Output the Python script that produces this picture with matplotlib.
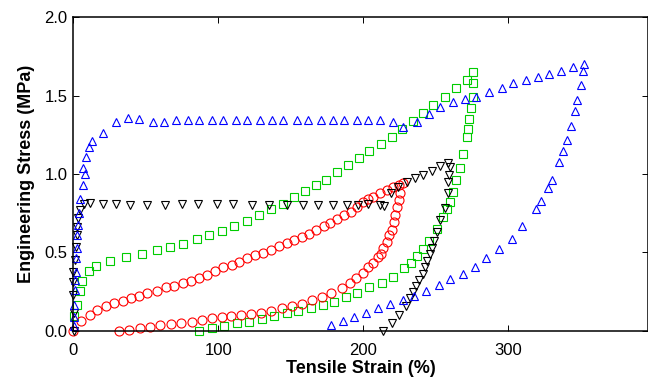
import numpy as np
import matplotlib
matplotlib.use("Agg")
import matplotlib.pyplot as plt

# --- DATA (strain in %, stress in MPa) ---
blue_x = [0.5, 0.5, 0.5, 1.0, 1.2, 1.6, 1.9, 2.3, 2.8, 3.2, 3.9, 4.6, 6.7, 7.8, 6.9,
          8.8, 11.0, 13.1, 20.7, 29.5, 38.0, 45.5, 54.8, 62.8, 70.7, 79.0, 87.0, 95.5,
          103.5, 112.0, 120.0, 129.0, 137.0, 145.0, 154.0, 162.0, 171.0, 179.4, 187.0,
          195.6, 203.6, 211.7, 220.4, 227.7, 237.0, 245.7, 253.0, 262.3, 270.3, 278.0,
          287.0, 295.6, 303.2, 312.2, 320.5, 328.3, 336.8, 344.6, 352.4,
          351.5, 350.4, 347.4, 345.8, 343.5, 340.9, 338.2, 335.0, 330.2, 327.4, 322.6,
          319.1, 309.9, 302.6, 293.8, 284.8, 277.2, 268.7, 260.0, 252.4, 243.4, 235.1,
          227.3, 218.6, 210.0, 202.0, 193.7, 185.9, 177.6]
blue_y = [0.03, 0.09, 0.164, 0.26, 0.323, 0.377, 0.462, 0.526, 0.61, 0.675, 0.749, 0.838,
          0.93, 1.0, 1.036, 1.11, 1.17, 1.21, 1.26, 1.33, 1.355, 1.35, 1.334, 1.334,
          1.345, 1.345, 1.345, 1.345, 1.345, 1.345, 1.345, 1.345, 1.345, 1.345, 1.345,
          1.345, 1.345, 1.345, 1.345, 1.345, 1.345, 1.345, 1.33, 1.30, 1.33, 1.38, 1.425,
          1.46, 1.48, 1.49, 1.525, 1.55, 1.58, 1.60, 1.62, 1.64, 1.657, 1.685, 1.70,
          1.657, 1.568, 1.47, 1.40, 1.306, 1.217, 1.147, 1.075, 0.962, 0.909, 0.83,
          0.775, 0.668, 0.587, 0.523, 0.462, 0.408, 0.36, 0.328, 0.292, 0.255, 0.221,
          0.196, 0.168, 0.143, 0.115, 0.09, 0.063, 0.036]

green_x = [0.5, 2.8, 4.6, 6.2, 10.8, 15.9, 25.3, 36.4, 47.2, 57.6, 66.7, 75.5, 85.2,
           93.9, 102.4, 110.9, 119.7, 128.4, 136.2, 144.5, 152.0, 160.0, 167.5, 174.6,
           181.8, 189.8, 197.0, 204.3, 212.2, 219.7, 226.6, 234.2, 241.5, 248.4, 256.5,
           263.9, 271.5, 276.1,
           276.1, 276.1, 274.3, 273.3, 272.6, 271.5, 268.7, 266.9, 264.1, 262.3, 260.0,
           258.1, 255.4, 250.8, 245.7, 241.5, 237.0, 232.8, 228.2, 220.4, 212.8, 204.3,
           195.6, 188.0, 179.9, 172.1, 163.8, 155.3, 147.3, 138.5, 130.0, 121.5, 113.2,
           104.0, 95.5, 87.0]
green_y = [0.094, 0.164, 0.255, 0.319, 0.383, 0.413, 0.447, 0.468, 0.49, 0.515, 0.536,
           0.553, 0.583, 0.611, 0.638, 0.668, 0.702, 0.738, 0.775, 0.809, 0.855, 0.89,
           0.932, 0.964, 1.015, 1.057, 1.104, 1.149, 1.19, 1.238, 1.29, 1.34, 1.39, 1.44,
           1.49, 1.547, 1.60, 1.653,
           1.583, 1.493, 1.42, 1.35, 1.287, 1.234, 1.128, 1.036, 0.962, 0.887, 0.823,
           0.775, 0.728, 0.647, 0.574, 0.519, 0.477, 0.434, 0.398, 0.345, 0.306, 0.277,
           0.239, 0.213, 0.185, 0.164, 0.143, 0.128, 0.115, 0.094, 0.073, 0.057, 0.047,
           0.030, 0.015, 0.0]

black_x = [0.5, 0.5, 0.0, 0.0, 0.0, 1.5, 1.6, 2.8, 2.8, 3.4, 4.6, 7.4, 11.5, 20.7, 29.5,
           39.1, 51.0, 63.3, 74.8, 86.3, 99.0, 110.4, 123.0, 135.3, 147.3, 158.3, 169.1,
           179.4, 188.7, 196.7, 203.6, 211.7, 214.4, 219.0, 224.3, 230.0, 235.8, 241.5,
           247.3, 253.0, 258.8,
           259.9, 259.4, 258.8, 258.2, 256.5, 253.0, 250.8, 249.0, 247.3, 246.2, 244.3,
           242.7, 241.1, 238.8, 236.5, 234.6, 232.4, 229.6, 225.0, 219.7, 214.0]
black_y = [0.0, 0.11, 0.228, 0.313, 0.377, 0.45, 0.536, 0.61, 0.664, 0.717, 0.77, 0.809,
           0.813, 0.809, 0.81, 0.80, 0.80, 0.80, 0.809, 0.809, 0.809, 0.809, 0.80, 0.80,
           0.80, 0.80, 0.80, 0.80, 0.80, 0.80, 0.809, 0.80, 0.796, 0.877, 0.915, 0.947,
           0.972, 0.993, 1.02, 1.05, 1.068,
           1.047, 0.993, 0.951, 0.877, 0.78, 0.706, 0.632, 0.574, 0.526, 0.49, 0.447,
           0.405, 0.362, 0.324, 0.285, 0.249, 0.207, 0.158, 0.10, 0.051, 0.0]

red_x = [0.0, 5.6, 11.2, 16.6, 22.5, 27.9, 34.1, 39.6, 45.5, 51.0, 58.0, 63.9, 69.5, 75.5,
         81.0, 87.0, 92.5, 97.8, 103.5, 109.3, 114.6, 120.1, 125.4, 130.7, 136.2, 142.2,
         147.3, 152.3, 157.6, 162.9, 167.5, 173.0, 177.2, 182.2, 186.8, 191.4, 196.0,
         200.1, 203.5, 207.0, 211.7, 216.3, 220.4, 224.4, 227.7,
         225.5, 224.4, 223.2, 222.0, 221.0, 219.7, 218.0, 216.3, 214.0, 212.0, 210.3,
         207.0, 203.6, 199.7, 195.0, 191.0, 185.2, 178.0, 171.4, 164.5, 157.6, 150.7,
         143.8, 136.2, 129.3, 122.4, 115.5, 108.6, 102.4, 95.5, 88.6, 81.7, 74.1, 67.2,
         59.8, 52.9, 46.0, 38.6, 31.7]
red_y = [0.0, 0.06, 0.103, 0.134, 0.156, 0.177, 0.191, 0.207, 0.221, 0.239, 0.255, 0.277,
         0.285, 0.302, 0.319, 0.334, 0.355, 0.383, 0.405, 0.419, 0.44, 0.462, 0.483, 0.498,
         0.515, 0.541, 0.558, 0.579, 0.60, 0.62, 0.643, 0.668, 0.689, 0.711, 0.738, 0.76,
         0.787, 0.823, 0.84, 0.855, 0.877, 0.898, 0.919, 0.93, 0.94,
         0.877, 0.834, 0.79, 0.738, 0.696, 0.643, 0.61, 0.568, 0.526, 0.49, 0.468, 0.434,
         0.405, 0.37, 0.334, 0.302, 0.27, 0.243, 0.217, 0.196, 0.17, 0.158, 0.143, 0.128,
         0.115, 0.107, 0.10, 0.094, 0.085, 0.079, 0.068, 0.057, 0.051, 0.043, 0.036,
         0.026, 0.015, 0.004, 0.0]

x_ticks = [0, 100, 200, 300]
y_ticks = [0.0, 0.5, 1.0, 1.5, 2.0]
y_tick_labels = ["0.0", "0.5", "1.0", "1.5", "2.0"]

# --- PLOT ---
plt.rcParams['font.family'] = ['Liberation Sans', 'DejaVu Sans']

fig = plt.figure(figsize=(6.48, 3.82), dpi=100)
ax = fig.add_axes([0.1131, 0.1343, 0.8869, 0.8204])

mk = dict(linestyle='none', markerfacecolor='none', markeredgewidth=0.8, clip_on=False)
ax.plot(green_x, green_y, marker='s', color='#00cc00', markersize=6, **mk)
ax.plot(red_x, red_y, marker='o', color='#ff0000', markersize=6.5, **mk)
ax.plot(black_x, black_y, marker='v', color='black', markersize=6, **mk)
ax.plot(blue_x, blue_y, marker='^', color='#0000ff', markersize=6, **mk)

ax.set_xlim(0, 396.5)
ax.set_ylim(0, 2.0)
ax.set_xticks(x_ticks)
ax.set_yticks(y_ticks)
ax.set_yticklabels(y_tick_labels)

ax.tick_params(direction='in', top=True, right=True, length=4, width=0.7,
               labelsize=12, colors='black')
ax.tick_params(axis='x', pad=8.5)
ax.tick_params(axis='y', pad=4)
for s in ax.spines.values():
    s.set_linewidth(1.1)

ax.set_xlabel("Tensile Strain (%)", fontsize=13, fontweight='bold')
ax.set_ylabel("Engineering Stress (MPa)", fontsize=13, fontweight='bold')
ax.xaxis.set_label_coords(0.5, -0.094)
ax.yaxis.set_label_coords(-0.066, 0.5)

fig.savefig("out.png", dpi=100)
